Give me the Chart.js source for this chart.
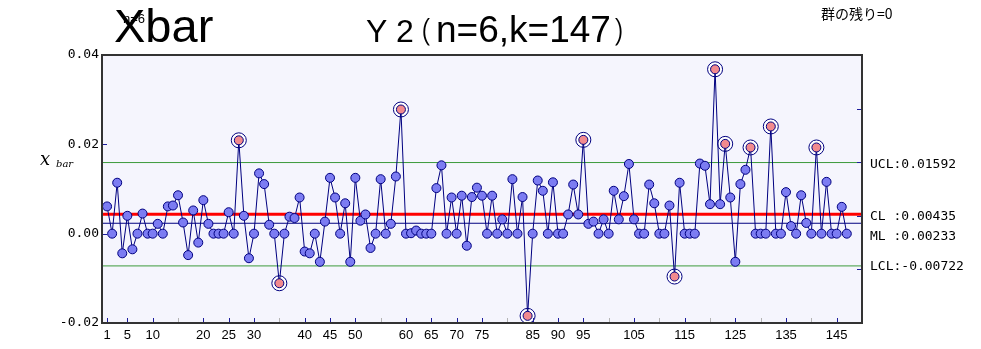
<!DOCTYPE html>
<html>
<head>
<meta charset="utf-8">
<script src="https://cdn.jsdelivr.net/npm/chart.js@4.4.1/dist/chart.umd.min.js"></script>
<style>
  body { margin: 0; background: #fff; }
  #wrap { width: 981px; height: 349px; }
</style>
</head>
<body>
<div id="wrap"><canvas id="xbar-chart" width="981" height="349"></canvas></div>
<script>
// subgroup number (k = 147) and the subgroup means
const groupNo = Array.from({ length: 147 }, (_, i) => i + 1)
const xbarValues = [
  0.0061, 0, 0.0114, -0.0044, 0.0040, -0.0035, 0, 0.0045, 0, 0,
  0.0022, 0, 0.0061, 0.0063, 0.0086, 0.0025, -0.0048, 0.0052, -0.0020, 0.0075,
  0.0022, 0, 0, 0, 0.0048, 0, 0.0209, 0.0040, -0.0055, 0,
  0.0135, 0.0111, 0.0020, 0, -0.0111, 0, 0.0038, 0.0035, 0.0081, -0.0040,
  -0.0044, 0, -0.0063, 0.0027, 0.0125, 0.0081, 0, 0.0068, -0.0063, 0.0125,
  0.0029, 0.0043, -0.0032, 0, 0.0122, 0, 0.0022, 0.0128, 0.0278, 0,
  0.0001, 0.0007, 0, 0, 0, 0.0102, 0.0153, 0, 0.0081, 0,
  0.0085, -0.0027, 0.0082, 0.0103, 0.0085, 0, 0.0085, 0, 0.0032, 0,
  0.0122, 0, 0.0082, -0.0184, 0, 0.0119, 0.0096, 0, 0.0115, 0,
  0, 0.0043, 0.0110, 0.0043, 0.0210, 0.0022, 0.0027, 0, 0.0032, 0,
  0.0096, 0.0032, 0.0084, 0.0156, 0.0032, 0, 0, 0.0110, 0.0068, 0,
  0, 0.0063, -0.0096, 0.0114, 0, 0, 0, 0.0157, 0.0152, 0.0066,
  0.0368, 0.0066, 0.0201, 0.0081, -0.0063, 0.0111, 0.0143, 0.0193, 0, 0,
  0, 0.0240, 0, 0, 0.0093, 0.0017, 0, 0.0086, 0.0024, 0,
  0.0193, 0, 0.0116, 0, 0, 0.0060, 0
]

// control limits
const UCL = 0.01592
const CL = 0.00435
const ML = 0.00233
const LCL = -0.00722

// x axis ticks; empty label = tick mark only (grey)
const xTickValues = [1, 5, 10, 15, 20, 25, 30, 35, 40, 45, 50, 55, 60, 65, 70, 75, 80,
  85, 90, 95, 100, 105, 110, 115, 120, 125, 130, 135, 140, 145]
const xTickLabels = ['1', '5', '10', '', '20', '25', '30', '', '40', '45', '50', '', '60', '65', '70', '75', '',
  '85', '90', '95', '', '105', '', '115', '', '125', '', '135', '', '145']
const yTickValues = [0.04, 0.02, 0, -0.02]
const rightTickValues = [0.04, 0.028, 0.016, 0.004, -0.008, -0.02]

const isOut = (v) => v > UCL || v < LCL
const limitLine = (v) => [{ x: 0, y: v }, { x: 150, y: v }]

// background, inward tick marks, frame, texts
const decorations = {
  id: 'decorations',
  beforeDatasetsDraw(chart) {
    const { ctx, chartArea: a } = chart
    ctx.save()
    ctx.fillStyle = '#f5f5fd'
    ctx.fillRect(a.left, a.top, a.right - a.left, a.bottom - a.top)
    ctx.restore()
  },
  afterDatasetsDraw(chart) {
    const { ctx, chartArea: a, scales } = chart
    ctx.save()
    ctx.lineWidth = 1
    xTickValues.forEach((v, i) => {
      const px = Math.round(scales.x.getPixelForValue(v)) + 0.5
      ctx.strokeStyle = xTickLabels[i] ? '#1c1c9c' : '#b4b4b4'
      ctx.beginPath(); ctx.moveTo(px, a.bottom); ctx.lineTo(px, a.bottom - 5); ctx.stroke()
    })
    ctx.strokeStyle = '#1c1c9c'
    yTickValues.forEach((v) => {
      const py = Math.round(scales.y.getPixelForValue(v)) + 0.5
      ctx.beginPath(); ctx.moveTo(a.left, py); ctx.lineTo(a.left + 5, py); ctx.stroke()
    })
    rightTickValues.forEach((v) => {
      const py = Math.round(scales.y.getPixelForValue(v)) + 0.5
      ctx.beginPath(); ctx.moveTo(a.right, py); ctx.lineTo(a.right - 5, py); ctx.stroke()
    })
    // frame
    ctx.lineWidth = 2
    ctx.strokeStyle = '#333'
    ctx.strokeRect(a.left, a.top, a.right - a.left, a.bottom - a.top)
    ctx.restore()
  },
  afterDraw(chart) {
    const { ctx, scales } = chart
    ctx.save()
    ctx.fillStyle = '#000'
    ctx.textBaseline = 'alphabetic'
    ctx.textAlign = 'left'
    // big title
    ctx.font = '47px "Liberation Sans", Arial, sans-serif'
    ctx.fillText('Xbar', 114, 42)
    ctx.font = '13px "Liberation Sans", Arial, sans-serif'
    ctx.fillText('n=6', 123, 23)
    // subtitle
    ctx.font = '32px "Liberation Sans", Arial, sans-serif'
    ctx.fillText('Y', 366, 42)
    ctx.fillText('2', 396, 42)
    ctx.font = '300 32px "Noto Sans", sans-serif'
    ctx.fillText('(', 422, 40)
    ctx.font = '37px "Liberation Sans", Arial, sans-serif'
    ctx.fillText('n=6,k=147', 436, 42)
    ctx.font = '300 32px "Noto Sans", sans-serif'
    ctx.fillText(')', 614, 40)
    ctx.font = '14px "Noto Sans CJK JP", sans-serif'
    ctx.fillText('群の残り=0', 821, 19)
    // y axis title
    ctx.font = 'italic 18px "DejaVu Serif", "Liberation Serif", serif'
    ctx.fillText('x', 40, 165)
    ctx.font = 'italic 10px "DejaVu Serif", "Liberation Serif", serif'
    ctx.fillText('bar', 56, 167)
    // limit labels
    ctx.font = '13px "DejaVu Sans Mono", monospace'
    ctx.textBaseline = 'middle'
    const y = scales.y
    const clY = y.getPixelForValue(CL) + 2
    ctx.fillText('UCL:' + UCL.toFixed(5), 870, y.getPixelForValue(UCL) + 2)
    ctx.fillText('CL :' + CL.toFixed(5), 870, clY)
    ctx.fillText('ML :' + ML.toFixed(5), 870, clY + 20)
    ctx.fillText('LCL:' + LCL.toFixed(5), 870, y.getPixelForValue(LCL) + 1)
    ctx.restore()
  }
}

const ctx = document.getElementById('xbar-chart').getContext('2d')
const chart = new Chart(ctx, {
  type: 'line',
  data: {
    datasets: [
      {
        label: 'xbar',
        data: groupNo.map((g, i) => ({ x: g, y: xbarValues[i] })),
        borderColor: '#000080',
        borderWidth: 1,
        pointRadius: 4.5,
        pointBorderWidth: 1,
        pointBorderColor: '#000080',
        pointBackgroundColor: (c) => (c.raw && isOut(c.raw.y) ? '#f28a8e' : '#7c7cf2'),
        order: 1,
      },
      {
        // double ring round the out-of-control points
        label: 'out',
        data: groupNo.map((g, i) => ({ x: g, y: isOut(xbarValues[i]) ? xbarValues[i] : null })),
        showLine: false,
        pointRadius: 7.5,
        pointBorderWidth: 1,
        pointBorderColor: '#000080',
        pointBackgroundColor: '#ffffff',
        order: 2,
      },
      { label: 'UCL', data: limitLine(UCL), borderColor: '#3c9a3c', borderWidth: 1, pointRadius: 0, order: 5 },
      { label: 'LCL', data: limitLine(LCL), borderColor: '#3c9a3c', borderWidth: 1, pointRadius: 0, order: 5 },
      { label: 'ML', data: limitLine(ML), borderColor: '#000080', borderWidth: 1, pointRadius: 0, order: 4 },
      { label: 'CL', data: limitLine(CL), borderColor: '#ff0000', borderWidth: 3, pointRadius: 0, order: 3 },
    ],
  },
  options: {
    responsive: false,
    animation: false,
    devicePixelRatio: 1,
    layout: { padding: { top: 55, right: 119, left: 0, bottom: 0 } },
    plugins: { legend: { display: false }, tooltip: { enabled: false } },
    scales: {
      x: {
        type: 'linear',
        min: 0,
        max: 150,
        afterBuildTicks: (s) => { s.ticks = xTickValues.map((v) => ({ value: v })) },
        afterFit: (s) => { s.height = 26 },
        grid: { display: false, drawTicks: false },
        border: { display: false },
        ticks: {
          autoSkip: false,
          maxRotation: 0,
          padding: 5,
          color: '#000',
          font: { family: '"Liberation Sans", Arial, sans-serif', size: 13 },
          callback: (v, i) => xTickLabels[i],
        },
      },
      y: {
        min: -0.02,
        max: 0.04,
        afterBuildTicks: (s) => { s.ticks = yTickValues.map((v) => ({ value: v })) },
        afterFit: (s) => { s.width = 102 },
        grid: { display: false, drawTicks: false },
        border: { display: false },
        ticks: {
          padding: 3,
          color: '#000',
          font: { family: '"DejaVu Sans Mono", monospace', size: 13 },
          callback: (v) => v.toFixed(2),
        },
      },
    },
  },
  plugins: [decorations],
})
</script>
</body>
</html>
